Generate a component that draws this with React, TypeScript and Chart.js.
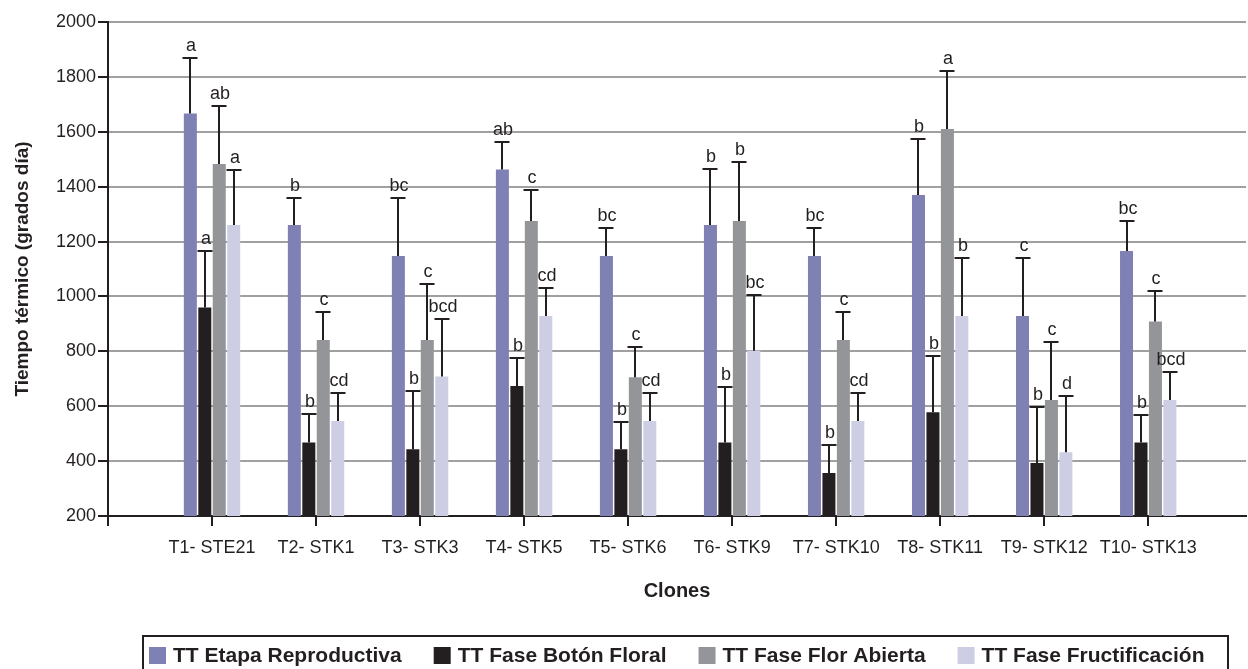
import React, { useEffect, useRef } from 'react';
import { Chart, registerables } from 'chart.js';

Chart.register(...registerables);

const categories = ['T1- STE21', 'T2- STK1', 'T3- STK3', 'T4- STK5', 'T5- STK6', 'T6- STK9', 'T7- STK10', 'T8- STK11', 'T9- STK12', 'T10- STK13'];
const seriesNames = ['TT Etapa Reproductiva', 'TT Fase Botón Floral', 'TT Fase Flor Abierta', 'TT Fase Fructificación'];
const seriesColors = ['#7f80b3', '#231f20', '#939598', '#cdcee4'];

const etapaReproductiva = [1667, 1260, 1147, 1463, 1147, 1260, 1147, 1370, 929, 1166];
const faseBotonFloral = [960, 468, 443, 674, 443, 468, 357, 578, 393, 468];
const faseFlorAbierta = [1483, 841, 841, 1275, 706, 1275, 841, 1610, 623, 909];
const faseFructificacion = [1260, 546, 708, 929, 546, 802, 546, 929, 432, 623];

const errEtapaReproductiva = [203, 100, 213, 101, 104, 203, 104, 204, 210, 109];
const errFaseBotonFloral = [207, 102, 212, 101, 101, 203, 102, 204, 203, 101];
const errFaseFlorAbierta = [210, 103, 204, 112, 110, 214, 103, 210, 210, 111];
const errFaseFructificacion = [202, 101, 210, 102, 101, 202, 101, 210, 205, 102];

const letEtapaReproductiva = ['a', 'b', 'bc', 'ab', 'bc', 'b', 'bc', 'b', 'c', 'bc'];
const letFaseBotonFloral = ['a', 'b', 'b', 'b', 'b', 'b', 'b', 'b', 'b', 'b'];
const letFaseFlorAbierta = ['ab', 'c', 'c', 'c', 'c', 'b', 'c', 'a', 'c', 'c'];
const letFaseFructificacion = ['a', 'cd', 'bcd', 'cd', 'cd', 'bc', 'cd', 'b', 'd', 'bcd'];

const yMin = 200;
const yMax = 2000;
const yStep = 200;

const allValues = [etapaReproductiva, faseBotonFloral, faseFlorAbierta, faseFructificacion];
const allErrors = [errEtapaReproductiva, errFaseBotonFloral, errFaseFlorAbierta, errFaseFructificacion];
const allLetters = [letEtapaReproductiva, letFaseBotonFloral, letFaseFlorAbierta, letFaseFructificacion];

const FONT = '"Liberation Sans", Arial, Helvetica, sans-serif';
const INK = '#231f20';

const errorPlugin = {
  id: 'errorLetters',
  afterDatasetsDraw(chart: any) {
    const ctx = chart.ctx;
    const yScale = chart.scales.y;
    chart.data.datasets.forEach((_ds: any, d: number) => {
      const meta = chart.getDatasetMeta(d);
      meta.data.forEach((el: any, i: number) => {
        const top = Math.round(yScale.getPixelForValue(allValues[d][i] + allErrors[d][i]));
        const x = Math.round(el.x);
        ctx.save();
        ctx.strokeStyle = INK;
        ctx.lineWidth = 2;
        ctx.beginPath();
        ctx.moveTo(x, el.y);
        ctx.lineTo(x, top);
        ctx.moveTo(x - 7.5, top);
        ctx.lineTo(x + 7.5, top);
        ctx.stroke();
        ctx.font = `18px ${FONT}`;
        ctx.fillStyle = INK;
        ctx.textAlign = 'center';
        ctx.textBaseline = 'alphabetic';
        ctx.fillText(allLetters[d][i], x + 1, top - 7);
        ctx.restore();
      });
    });
  },
};

const legendPlugin = {
  id: 'boxLegend',
  afterDraw(chart: any) {
    const ctx = chart.ctx;
    ctx.save();
    ctx.strokeStyle = INK;
    ctx.lineWidth = 2;
    ctx.strokeRect(143, 636, 1085, 60);
    ctx.font = `bold 21px ${FONT}`;
    ctx.textBaseline = 'alphabetic';
    ctx.textAlign = 'left';
    let x = 149;
    seriesNames.forEach((name, i) => {
      ctx.fillStyle = seriesColors[i];
      ctx.fillRect(x, 647, 17, 17);
      ctx.fillStyle = INK;
      ctx.fillText(name, x + 24, 662);
      x += 24 + ctx.measureText(name).width + 32;
    });
    ctx.restore();
  },
};

export default function App() {
  const ref = useRef<HTMLCanvasElement | null>(null);

  useEffect(() => {
    if (!ref.current) return;
    const datasets = seriesNames.map((name, d) => ({
      label: name,
      data: categories.map((_c, i) => ({ x: i + 1, y: allValues[d][i] })),
      backgroundColor: seriesColors[d],
      borderWidth: 0,
      categoryPercentage: 0.556,
      barPercentage: 0.9,
    }));
    const chart = new Chart(ref.current, {
      type: 'bar',
      data: { datasets },
      plugins: [errorPlugin, legendPlugin],
      options: {
        animation: false,
        responsive: false,
        devicePixelRatio: 1,
        layout: { padding: { left: 0, right: 2, top: 22, bottom: 0 } },
        plugins: { legend: { display: false }, tooltip: { enabled: false } },
        scales: {
          x: {
            type: 'linear',
            min: 0,
            max: 10.94,
            offset: false,
            afterBuildTicks: (s: any) => {
              s.ticks = [0, ...categories.map((_c, i) => i + 1)].map((v) => ({ value: v }));
            },
            afterFit: (s: any) => {
              s.height = 153;
            },
            ticks: {
              callback: (v: any) => categories[Number(v) - 1] ?? '',
              font: { family: FONT, size: 18 },
              color: INK,
              padding: 11,
              maxRotation: 0,
              autoSkip: false,
            },
            grid: { drawOnChartArea: false, offset: false, tickLength: 10, color: INK, lineWidth: 2 },
            border: { color: INK, width: 2 },
            title: {
              display: true,
              text: 'Clones',
              color: INK,
              font: { family: FONT, size: 20, weight: 'bold' },
              padding: { top: 0, bottom: 66 },
            },
          },
          y: {
            min: yMin,
            max: yMax,
            afterFit: (s: any) => {
              s.width = 108;
            },
            ticks: {
              stepSize: yStep,
              callback: (v: any) => String(v),
              font: { family: FONT, size: 18 },
              color: INK,
              padding: 2,
            },
            grid: {
              color: (c: any) => (c.tick && c.tick.value === yMin ? INK : '#a0a0a0'),
              lineWidth: 2,
              tickLength: 10,
              tickColor: INK,
            },
            border: { color: INK, width: 2 },
            title: {
              display: true,
              text: 'Tiempo térmico (grados día)',
              color: INK,
              font: { family: FONT, size: 19, weight: 'bold' },
              padding: { top: 11, bottom: 0 },
            },
          },
        },
      } as any,
    });
    return () => chart.destroy();
  }, []);

  return (
    <div style={{ position: 'absolute', left: 0, top: 0, width: 1248, height: 669, background: '#fff' }}>
      <canvas ref={ref} width={1248} height={669} />
    </div>
  );
}
